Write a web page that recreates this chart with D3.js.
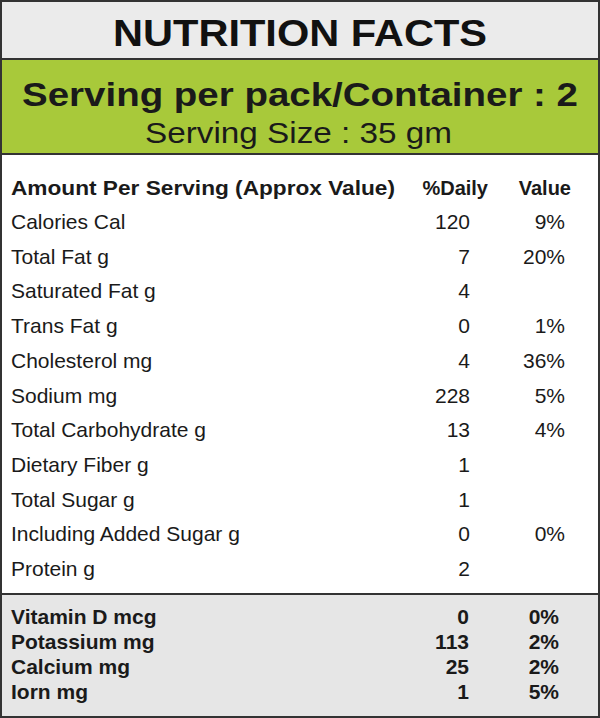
<!DOCTYPE html>
<html><head><meta charset="utf-8">
<script src="https://cdn.jsdelivr.net/npm/d3@7"></script>
<style>body{margin:0;background:#fff}svg{display:block;font-family:Arimo,"Liberation Sans",Arial,sans-serif}</style>
</head><body><svg id="label"></svg>
<script>
const nutrients = ["Calories Cal", "Total Fat g", "Saturated Fat g", "Trans Fat g", "Cholesterol mg", "Sodium mg", "Total Carbohydrate g", "Dietary Fiber g", "Total Sugar g", "Including Added Sugar g", "Protein g"];
const amounts = ["120", "7", "4", "0", "4", "228", "13", "1", "1", "0", "2"];
const percents = ["9%", "20%", "", "1%", "36%", "5%", "4%", "", "", "0%", ""];
const minerals = ["Vitamin D mcg", "Potassium mg", "Calcium mg", "Iorn mg"];
const mineralAmounts = ["0", "113", "25", "1"];
const mineralPercents = ["0%", "2%", "2%", "5%"];

const width = 600, height = 718;
const svg = d3.select("#label").attr("width", width).attr("height", height);

// bands
svg.append("rect").attr("x", 1).attr("y", 1).attr("width", 598).attr("height", 716).attr("fill", "#fff").attr("stroke", "#333").attr("stroke-width", 2);
svg.append("rect").attr("x", 2).attr("y", 2).attr("width", 596).attr("height", 56).attr("fill", "#ebebeb");
svg.append("rect").attr("x", 2).attr("y", 60).attr("width", 596).attr("height", 93).attr("fill", "#a8c93a");
svg.append("rect").attr("x", 2).attr("y", 595).attr("width", 596).attr("height", 121).attr("fill", "#e6e6e6");
[59, 154, 594].forEach(y => svg.append("line").attr("x1", 1).attr("x2", 599).attr("y1", y).attr("y2", y).attr("stroke", "#333").attr("stroke-width", 2));

// titles, stretched to the widths seen in the label
svg.append("text").attr("x", 113).attr("y", 46).attr("font-size", 36).attr("font-weight", "bold").attr("fill", "#111")
  .attr("textLength", 374).attr("lengthAdjust", "spacingAndGlyphs").text("NUTRITION FACTS");
svg.append("text").attr("x", 22).attr("y", 106).attr("font-size", 33).attr("font-weight", "bold").attr("fill", "#1a1a1a")
  .attr("textLength", 556).attr("lengthAdjust", "spacingAndGlyphs").text("Serving per pack/Container : 2");
svg.append("text").attr("x", 145).attr("y", 143).attr("font-size", 29).attr("fill", "#1a1a1a")
  .attr("textLength", 307).attr("lengthAdjust", "spacingAndGlyphs").text("Serving Size : 35 gm");

// header
const hdr = svg.append("g").attr("font-size", 20).attr("font-weight", "bold").attr("fill", "#1a1a1a");
hdr.append("text").attr("x", 11).attr("y", 195).attr("textLength", 384).attr("lengthAdjust", "spacingAndGlyphs").text("Amount Per Serving (Approx Value)");
hdr.append("text").attr("x", 488).attr("y", 195).attr("text-anchor", "end").text("%Daily");
hdr.append("text").attr("x", 571).attr("y", 195).attr("text-anchor", "end").text("Value");

const y = d3.scalePoint().domain(nutrients).range([229, 576]);
const rows = svg.append("g").attr("font-size", 21).attr("fill", "#1a1a1a")
  .selectAll("g").data(nutrients).join("g").attr("transform", d => `translate(0,${y(d)})`);
rows.append("text").attr("x", 11).text(d => d);
rows.append("text").attr("x", 470).attr("text-anchor", "end").text((d, i) => amounts[i]);
rows.append("text").attr("x", 565).attr("text-anchor", "end").text((d, i) => percents[i]);

const y2 = d3.scalePoint().domain(minerals).range([624, 699]);
const mrows = svg.append("g").attr("font-size", 21).attr("font-weight", "bold").attr("fill", "#1a1a1a")
  .selectAll("g").data(minerals).join("g").attr("transform", d => `translate(0,${y2(d)})`);
mrows.append("text").attr("x", 11).text(d => d);
mrows.append("text").attr("x", 469).attr("text-anchor", "end").text((d, i) => mineralAmounts[i]);
mrows.append("text").attr("x", 559).attr("text-anchor", "end").text((d, i) => mineralPercents[i]);
</script></body></html>
